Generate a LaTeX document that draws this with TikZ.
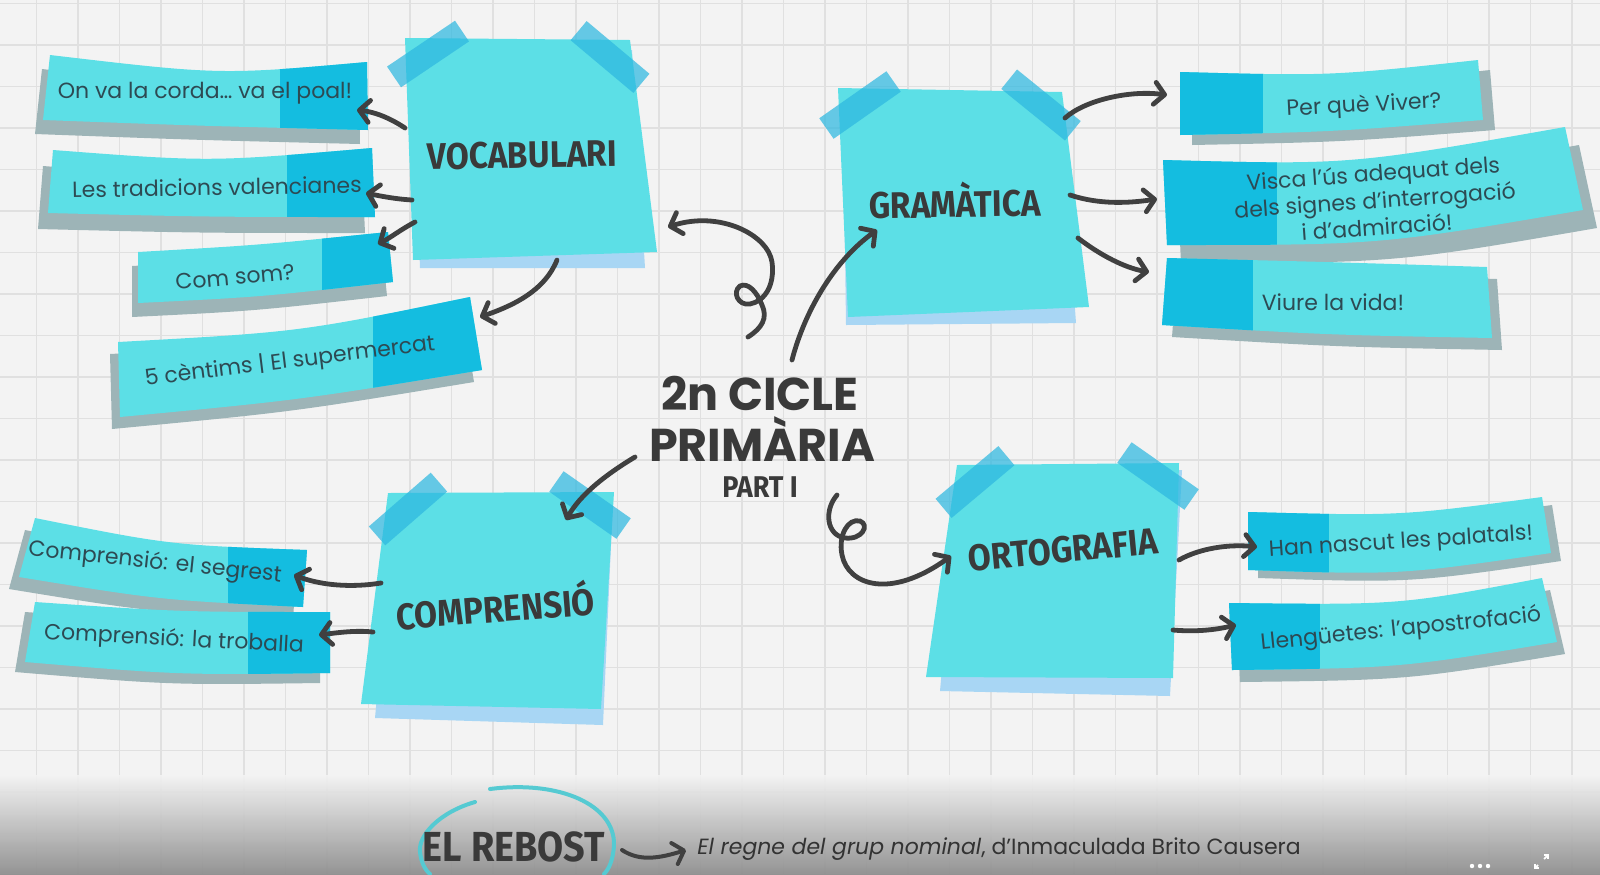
\documentclass[tikz,border=0pt]{standalone}
\usepackage{fontspec}
\setmainfont{Poppins}
\newfontfamily\hand[FakeStretch=0.9]{Fira Sans}
\usetikzlibrary{arrows.meta}
\definecolor{bgc}{HTML}{F3F3F3}
\definecolor{gridc}{HTML}{E0E0E0}
\definecolor{notec}{HTML}{5CDFE6}
\definecolor{darkc}{HTML}{14BDE0}
\definecolor{tapec}{HTML}{2DB8E0}
\definecolor{noteshc}{HTML}{A8D6F4}
\definecolor{stripshc}{HTML}{9DB4B7}
\definecolor{arrowc}{HTML}{404040}
\definecolor{inkc}{HTML}{3A3A3A}
\definecolor{stxt}{HTML}{2D4A53}
\definecolor{ringc}{HTML}{55CAD2}
\tikzset{
 gridline/.style={draw=gridc, line width=0.8pt},
 stripfill/.style={fill=notec},
 stripdark/.style={fill=darkc},
 stripshadow/.style={fill=stripshc},
 notefill/.style={fill=notec},
 noteshadow/.style={fill=noteshc},
 tape/.style={fill=tapec, fill opacity=0.72, minimum width=41pt, minimum height=12.5pt, inner sep=0pt, draw=none},
 striptext/.style={text=stxt, font=\fontsize{11}{13.5}\selectfont, inner sep=0pt, align=center},
 notetitle/.style={text=inkc, font=\hand\bfseries\fontsize{18.5}{18.5}\selectfont, inner sep=0pt},
 bigtitle/.style={text=inkc, font=\bfseries\fontsize{23}{23}\selectfont, inner sep=0pt},
 link/.style={draw=arrowc, line width=2.4pt, line cap=round, -{Straight Barb[length=5pt,width=11pt,round]}},
 ring/.style={draw=ringc, line width=2pt, line cap=round},
}
\newcommand\tstrip[8]{%
 \fill[stripshadow,shift={#7}] #1 .. controls #2 .. #3 -- #4 .. controls #5 .. #6 -- cycle;
 \fill[stripfill] #1 .. controls #2 .. #3 -- #4 .. controls #5 .. #6 -- cycle;
 \begin{scope}
 \clip #1 .. controls #2 .. #3 -- #4 .. controls #5 .. #6 -- cycle;
 \fill[stripdark] #8;
 \end{scope}}
\begin{document}
\begin{tikzpicture}[x=0.5pt,y=-0.5pt]
\useasboundingbox (0,0) rectangle (1600,874);
\fill[bgc] (0,0) rectangle (1600,874);
\foreach \i in {0,...,38} \draw[gridline] ({36.5+41.5*\i},0) -- ++(0,874);
\foreach \j in {0,...,21} \draw[gridline] (0,{3.5+41.5*\j}) -- ++(1600,0);
\shade[top color=bgc, bottom color=black!45, opacity=0.92] (0,775) rectangle (1600,874);

% ---- strips ----
\tstrip{(50,55)}{(220,75)}{(367,62)}{(368,130)}{(205,126)}{(43,120)}{(-8,14)}{(280,0) rectangle (400,200)}
\tstrip{(53,150)}{(210,162)}{(372,148)}{(375,217)}{(210,217)}{(48,213)}{(-10,16)}{(287,100) rectangle (400,260)}
\tstrip{(138,252)}{(260,245)}{(388,232)}{(393,282)}{(260,297)}{(138,303)}{(-6,14)}{(322,200) rectangle (420,340)}
\tstrip{(118,342)}{(300,332)}{(470,297)}{(482,370)}{(300,400)}{(120,417)}{(-8,12)}{(373,250) rectangle (500,450)}
\tstrip{(1180,72)}{(1330,76)}{(1478,60)}{(1483,120)}{(1330,132)}{(1180,135)}{(12,10)}{(1100,0) rectangle (1263,200)}
\tstrip{(1163,160)}{(1350,165)}{(1565,127)}{(1583,210)}{(1380,245)}{(1167,245)}{(14,18)}{(1100,100) rectangle (1277,300)}
\tstrip{(1167,258)}{(1330,262)}{(1487,267)}{(1492,338)}{(1330,335)}{(1162,325)}{(10,12)}{(1100,200) rectangle (1253,400)}
\tstrip{(1248,512)}{(1400,516)}{(1542,497)}{(1551,553)}{(1400,575)}{(1248,570)}{(10,8)}{(1200,450) rectangle (1329,620)}
\tstrip{(1229,603)}{(1400,605)}{(1542,578)}{(1557,642)}{(1400,668)}{(1232,670)}{(8,12)}{(1200,550) rectangle (1320,720)}
\tstrip{(35,518)}{(170,545)}{(307,550)}{(303,607)}{(160,600)}{(19,577)}{(-10,12)}{(228,480) rectangle (340,650)}
\tstrip{(35,602)}{(180,612)}{(330,612)}{(330,673)}{(180,675)}{(25,662)}{(-10,10)}{(248,580) rectangle (360,700)}

% ---- notes ----
\fill[noteshadow] (412,50) -- (632,50) -- (645,268) -- (420,268) -- cycle;
\fill[notefill] (405,38) -- (630,40) -- (657,252) -- (413,260) -- cycle;
\fill[noteshadow] (843,100) -- (1060,100) -- (1076,323) -- (846,325) -- cycle;
\fill[notefill] (838,88) -- (1062,92) -- (1089,307) -- (848,317) -- cycle;
\fill[noteshadow] (960,470) -- (1182,470) -- (1170,696) -- (940,691) -- cycle;
\fill[notefill] (957,465) -- (1179,463) -- (1173,678) -- (926,677) -- cycle;
\fill[noteshadow] (395,500) -- (613,500) -- (603,725) -- (375,718) -- cycle;
\fill[notefill] (388,493) -- (614,492) -- (601,709) -- (361,704) -- cycle;

% ---- tapes ----
\node[tape, rotate=34] (tv1) at (428,54) {};
\node[tape, rotate=-40] (tv2) at (610,57) {};
\node[tape, rotate=35] (tg1) at (860,105) {};
\node[tape, rotate=-39] (tg2) at (1041,105) {};
\node[tape, rotate=40] (to1) at (975,482) {};
\node[tape, rotate=-35] (to2) at (1158,476) {};
\node[tape, rotate=41] (tc1) at (408,509) {};
\node[tape, rotate=-35] (tc2) at (590,505) {};

% ---- note titles ----
\node[notetitle, rotate=1] (voc) at (522,155) {VOCABULARI};
\node[notetitle, rotate=1] (gra) at (955,200) {GRAMÀTICA};
\node[notetitle, rotate=5.5] (ort) at (1063,550) {ORTOGRAFIA};
\node[notetitle, rotate=4.5] (com) at (495,605) {COMPRENSIÓ};

% ---- strip texts ----
\node[striptext] (v1) at (205,93) {On va la corda… va el poal!};
\node[striptext, rotate=1] (v2) at (217,187) {Les tradicions valencianes};
\node[striptext, rotate=5] (v3) at (235,277) {Com som?};
\node[striptext, rotate=7] (v4) at (290,362) {5 cèntims | El supermercat};
\node[striptext, rotate=3] (g1) at (1364,106) {Per què Viver?};
\node[striptext, rotate=4] (g2) at (1375,200) {Visca l'ús adequat dels\\dels signes d'interrogació\\i d’admiració!};
\node[striptext] (g3) at (1333,302) {Viure la vida!};
\node[striptext, rotate=3.7] (o1) at (1401,543) {Han nascut les palatals!};
\node[striptext, rotate=5.8] (o2) at (1401,630) {Llengüetes: l'apostrofació};
\node[striptext, rotate=-6] (c1) at (155,563) {Comprensió: el segrest};
\node[striptext, rotate=-3] (c2) at (174,640) {Comprensió: la troballa};

% ---- central title ----
\node[bigtitle] (t1) at (760,393) {2n CICLE};
\node[bigtitle] (t2) at (762,439) {PRIMÀRIA};
\node[text=inkc, font=\hand\bfseries\fontsize{15}{15}\selectfont, inner sep=0pt] (t3) at (760,487) {PART I};

% ---- connector end points ----
\coordinate (va1s) at (405,128); \coordinate (va1e) at (357,110);
\coordinate (va2s) at (412,200); \coordinate (va2e) at (366,193);
\coordinate (va3s) at (415,222); \coordinate (va3e) at (378,244);
\coordinate (va4s) at (557,260); \coordinate (va4e) at (480,317);
\coordinate (ga1s) at (1065,118); \coordinate (ga1e) at (1167,95);
\coordinate (ga2s) at (1070,195); \coordinate (ga2e) at (1157,199);
\coordinate (ga3s) at (1078,238); \coordinate (ga3e) at (1149,272);
\coordinate (oa1s) at (1179,560); \coordinate (oa1e) at (1257,547);
\coordinate (oa2s) at (1173,630); \coordinate (oa2e) at (1236,625);
\coordinate (ca1s) at (381,583); \coordinate (ca1e) at (294,575);
\coordinate (ca2s) at (373,632); \coordinate (ca2e) at (319,635);
\coordinate (tvs) at (748,337); \coordinate (tve) at (668,227);
\coordinate (tgs) at (792,360); \coordinate (tge) at (877,230);
\coordinate (tcs) at (635,457); \coordinate (tce) at (566,520);
\coordinate (tos) at (837,495); \coordinate (toe) at (951,556);

% ---- connectors ----
\draw[link] (va1s) .. controls (390,118) and (375,112) .. (va1e);
\draw[link] (va2s) .. controls (395,199) and (380,196) .. (va2e);
\draw[link] (va3s) .. controls (400,230) and (390,238) .. (va3e);
\draw[link] (va4s) .. controls (545,290) and (515,305) .. (va4e);
\draw[link] (ga1s) .. controls (1085,100) and (1130,90) .. (ga1e);
\draw[link] (ga2s) .. controls (1100,205) and (1130,203) .. (ga2e);
\draw[link] (ga3s) .. controls (1100,255) and (1125,268) .. (ga3e);
\draw[link] (oa1s) .. controls (1200,548) and (1230,544) .. (oa1e);
\draw[link] (oa2s) .. controls (1195,632) and (1215,630) .. (oa2e);
\draw[link] (ca1s) .. controls (350,588) and (320,585) .. (ca1e);
\draw[link] (ca2s) .. controls (355,630) and (335,633) .. (ca2e);
\draw[link] (tvs) .. controls (762,328) and (768,318) .. (762,305)
  .. controls (757,292) and (748,282) .. (740,286)
  .. controls (732,292) and (738,306) .. (750,304)
  .. controls (765,301) and (775,285) .. (772,262)
  .. controls (768,235) and (720,210) .. (tve);
\draw[link] (tgs) .. controls (805,310) and (835,260) .. (tge);
\draw[link] (tcs) .. controls (605,475) and (580,495) .. (tce);
\draw[link] (tos) .. controls (824,510) and (826,535) .. (845,538)
  .. controls (862,540) and (870,525) .. (860,521)
  .. controls (848,518) and (838,535) .. (842,555)
  .. controls (848,585) and (890,600) .. (toe);

% ---- bottom ----
\draw[ring] (490,789) .. controls (560,780) and (615,805) .. (614,845) .. controls (613,862) and (608,870) .. (604,874);
\draw[ring] (475,802) .. controls (440,812) and (418,835) .. (420,852) .. controls (421,862) and (425,870) .. (430,874);
\node[text=inkc, font=\hand\bfseries\fontsize{21}{21}\selectfont, inner sep=0pt] (reb) at (514,847) {EL REBOST};
\node[text=black!80, font=\fontsize{11}{12}\selectfont, inner sep=0pt, anchor=west] (cred) at (697,849) {\itshape El regne del grup nominal\upshape, d’Inmaculada Brito Causera};
\coordinate (rbs) at (622,850); \coordinate (rbe) at (686,850);
\draw[link, line width=2pt] (rbs) .. controls (640,862) and (660,858) .. (rbe);
\foreach \k in {0,1,2} \fill[white] ({1472+8*\k},866) circle (2.2);
\draw[white, line width=0.9pt, -{Straight Barb[length=1.5pt,width=3pt]}] (1538,865) -- (1534,869);
\draw[white, line width=0.9pt, -{Straight Barb[length=1.5pt,width=3pt]}] (1544,859) -- (1549,854);
\end{tikzpicture}
\end{document}
